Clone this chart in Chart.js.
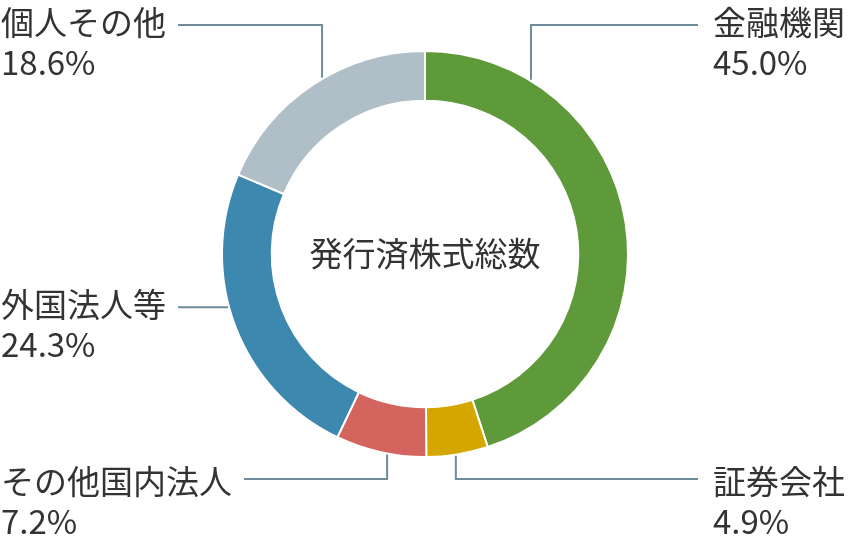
<!DOCTYPE html>
<html lang="ja">
<head>
<meta charset="utf-8">
<title>株式分布状況</title>
<script src="https://cdn.jsdelivr.net/npm/chart.js@4/dist/chart.umd.min.js"></script>
<style>
  html, body { margin: 0; padding: 0; background: #fff; }
  #wrap { width: 849px; height: 540px; position: relative; }
</style>
</head>
<body>
<div id="wrap"><canvas id="shareChart"></canvas></div>
<script>
/* ── data ── */
const categories = ['金融機関', '証券会社', 'その他国内法人', '外国法人等', '個人その他'];
const shares     = [45.0, 4.9, 7.2, 24.3, 18.6];
const colors     = ['#5f9a3a', '#d4a700', '#d3645e', '#3d88ae', '#afbec7'];
const centerText = '発行済株式総数';

/* ── label layout: anchor angle on the ring (deg, clockwise from top) ── */
const labelLayout = [
  { side: 'right', angle: 31.3,  lineY: 25,   textY: 22  },
  { side: 'right', angle: 171.3, lineY: 479,  textY: 481 },
  { side: 'left',  angle: 190.7, lineY: 479,  textY: 481 },
  { side: 'left',  angle: 254.9, lineY: null, textY: 304 },
  { side: 'left',  angle: 329.7, lineY: 25,   textY: 22  }
];

const FONT = '33px "Noto Sans CJK JP", "Noto Sans", sans-serif';
const TEXT_COLOR = '#333333';
const LINE_COLOR = '#6f8c9c';

const calloutPlugin = {
  id: 'callouts',
  afterDraw(chart) {
    const ctx = chart.ctx;
    const meta = chart.getDatasetMeta(0);
    ctx.save();
    ctx.font = FONT;
    ctx.textBaseline = 'middle';

    // center caption
    const a0 = meta.data[0].getProps(['x', 'y'], true);
    ctx.fillStyle = TEXT_COLOR;
    ctx.textAlign = 'center';
    ctx.fillText(centerText, a0.x, a0.y - 1);

    meta.data.forEach(function (arc, i) {
      const p = arc.getProps(['x', 'y', 'outerRadius'], true);
      const L = labelLayout[i];
      const r = p.outerRadius + 1;
      const th = L.angle * Math.PI / 180;
      const px = p.x + r * Math.sin(th);
      const py = p.y - r * Math.cos(th);
      const ly = L.lineY === null ? py : L.lineY;
      const name = categories[i];
      const pct = shares[i].toFixed(1) + '%';

      let textX, endX;
      if (L.side === 'left') {
        textX = 1;
        endX = textX + ctx.measureText(name).width + 12;
      } else {
        textX = 713;
        endX = textX - 15;
      }

      ctx.strokeStyle = LINE_COLOR;
      ctx.lineWidth = 2;
      ctx.beginPath();
      ctx.moveTo(px, py);
      ctx.lineTo(px, ly);
      ctx.lineTo(endX, ly);
      ctx.stroke();

      ctx.fillStyle = TEXT_COLOR;
      ctx.textAlign = 'left';
      ctx.fillText(name, textX, L.textY);
      ctx.fillText(pct, textX, L.textY + 40);
    });
    ctx.restore();
  }
};

new Chart(document.getElementById('shareChart'), {
  type: 'doughnut',
  data: {
    labels: categories,
    datasets: [{
      data: shares,
      backgroundColor: colors,
      borderColor: '#ffffff',
      borderWidth: 2,
      hoverOffset: 0
    }]
  },
  options: {
    responsive: true,
    maintainAspectRatio: false,
    animation: false,
    cutout: '75.5%',
    layout: { padding: { top: 50, bottom: 82, left: 1, right: 0 } },
    plugins: {
      legend: { display: false },
      tooltip: { enabled: false }
    }
  },
  plugins: [calloutPlugin]
});
</script>
</body>
</html>
